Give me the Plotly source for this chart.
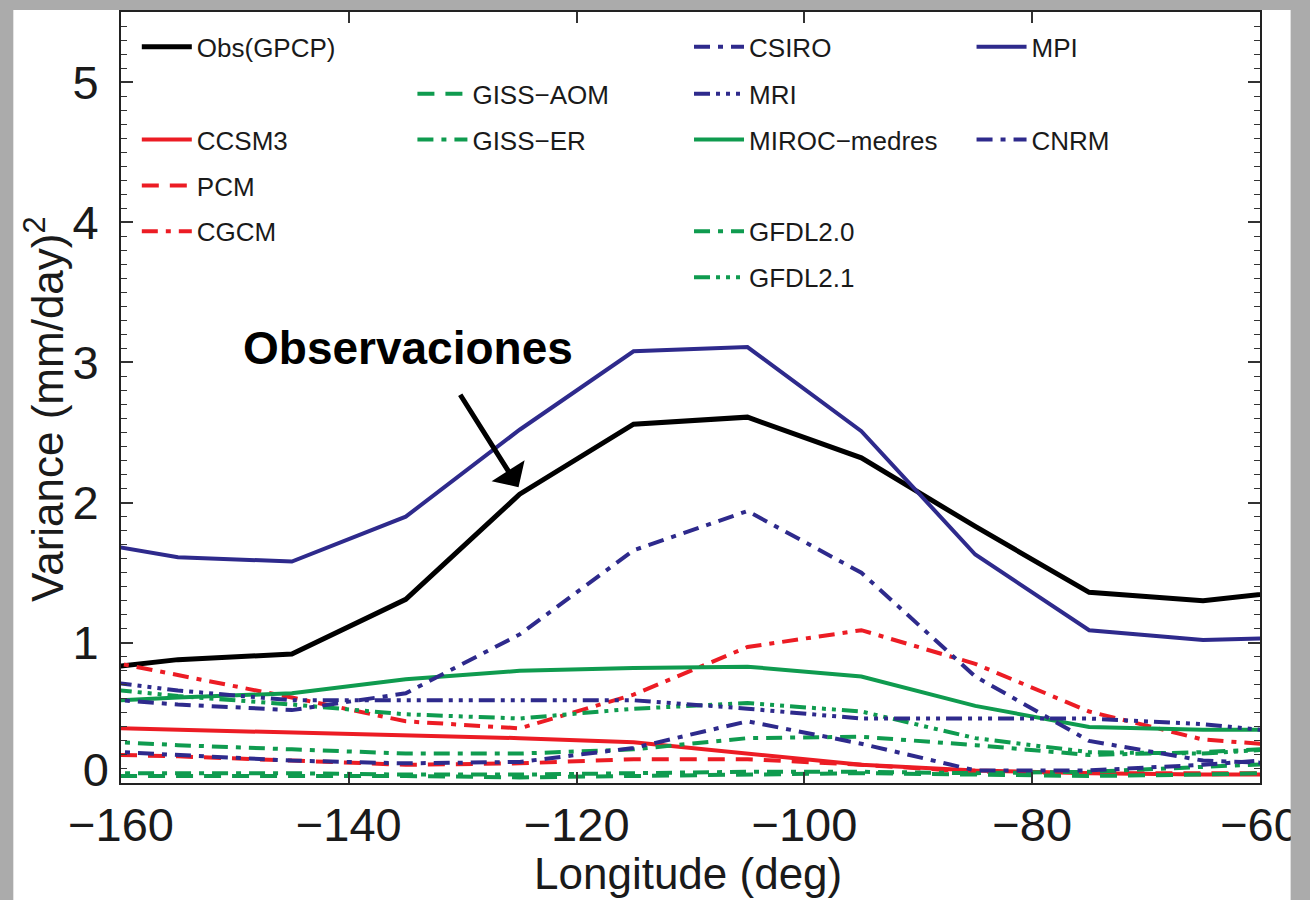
import plotly.graph_objects as go

# ---------------- data ----------------
lon = [-165, -155, -145, -135, -125, -115, -105, -95, -85, -75, -65, -55]

obs      = [0.79, 0.88, 0.92, 1.31, 2.06, 2.56, 2.61, 2.32, 1.83, 1.36, 1.30, 1.39]
ccsm3    = [0.40, 0.38, 0.36, 0.34, 0.32, 0.29, 0.21, 0.13, 0.09, 0.07, 0.06, 0.06]
pcm      = [0.21, 0.19, 0.16, 0.13, 0.14, 0.17, 0.17, 0.13, 0.08, 0.07, 0.07, 0.07]
cgcm     = [0.93, 0.77, 0.61, 0.44, 0.39, 0.63, 0.97, 1.09, 0.85, 0.51, 0.31, 0.25]
giss_aom = [0.05, 0.05, 0.05, 0.05, 0.04, 0.05, 0.06, 0.07, 0.06, 0.05, 0.06, 0.08]
giss_er  = [0.07, 0.07, 0.07, 0.06, 0.06, 0.07, 0.08, 0.08, 0.07, 0.08, 0.11, 0.15]
miroc    = [0.57, 0.61, 0.64, 0.74, 0.80, 0.82, 0.83, 0.76, 0.55, 0.40, 0.38, 0.38]
gfdl20   = [0.31, 0.27, 0.24, 0.21, 0.21, 0.24, 0.32, 0.33, 0.27, 0.20, 0.22, 0.26]
gfdl21   = [0.70, 0.62, 0.56, 0.49, 0.46, 0.53, 0.57, 0.51, 0.32, 0.22, 0.21, 0.26]
csiro    = [0.62, 0.56, 0.52, 0.64, 1.06, 1.66, 1.94, 1.50, 0.76, 0.30, 0.16, 0.13]
mri      = [0.76, 0.66, 0.59, 0.59, 0.59, 0.59, 0.53, 0.46, 0.46, 0.46, 0.42, 0.34]
mpi      = [1.75, 1.61, 1.58, 1.90, 2.52, 3.08, 3.11, 2.51, 1.63, 1.09, 1.02, 1.04]
cnrm     = [0.24, 0.20, 0.16, 0.14, 0.15, 0.25, 0.44, 0.28, 0.09, 0.09, 0.13, 0.19]

x_ticks = [-160, -140, -120, -100, -80, -60]
y_ticks = [1, 2, 3, 4, 5]
y_zero_tick = [0]

# ---------------- styles ----------------
RED = "#ec1c24"
GREEN = "#0f9b4f"
NAVY = "#2e2a8c"
BLACK = "#000000"

DASH = "17px,11px"
DASHDOT = "16px,8px,5px,8px"
DASH3DOT = "16px,6px,4px,6px,4px,6px,4px,6px"

# name, values, color, dash, width, legend line-start px, legend row py
series = [
    ("Obs(GPCP)",    obs,      BLACK, "solid",  5.0, 145, 45),
    ("CCSM3",        ccsm3,    RED,   "solid",  4.0, 145, 138),
    ("PCM",          pcm,      RED,   DASH,     4.0, 145, 184),
    ("CGCM",         cgcm,     RED,   DASHDOT,  4.0, 145, 230),
    ("GISS−AOM",     giss_aom, GREEN, DASH,     4.0, 424, 92),
    ("GISS−ER",      giss_er,  GREEN, DASHDOT,  4.0, 424, 138),
    ("MIROC−medres", miroc,    GREEN, "solid",  4.0, 704, 138),
    ("GFDL2.0",      gfdl20,   GREEN, DASHDOT,  4.0, 704, 230),
    ("GFDL2.1",      gfdl21,   GREEN, DASH3DOT, 4.0, 704, 276),
    ("CSIRO",        csiro,    NAVY,  DASHDOT,  4.0, 704, 45),
    ("MRI",          mri,      NAVY,  DASH3DOT, 4.0, 704, 92),
    ("MPI",          mpi,      NAVY,  "solid",  4.0, 990, 45),
    ("CNRM",         cnrm,     NAVY,  DASHDOT,  4.0, 990, 138),
]

# plot area geometry (px)
L, R, T, B = 121, 36, 10, 117
W, H = 1310, 900
PW = W - L - R
PH = H - T - B


def px_to_paper_x(px):
    return (px - L) / PW


def py_to_paper_y(py):
    return (H - B - py) / PH


fig = go.Figure()
layout_legends = {}
for i, (name, vals, color, dash, width, lx, ly) in enumerate(series):
    lid = "legend" if i == 0 else f"legend{i + 1}"
    fig.add_trace(go.Scatter(
        x=lon, y=vals, mode="lines", name=name,
        line=dict(color=color, dash=dash, width=width),
        legend=lid, showlegend=True,
        yaxis="y2" if name == "GISS−AOM" else "y",
    ))
    layout_legends[lid] = dict(
        x=px_to_paper_x(lx - 8), y=py_to_paper_y(ly),
        xanchor="left", yanchor="middle",
        bgcolor="rgba(0,0,0,0)", borderwidth=0,
        font=dict(family="Liberation Sans", size=26, color="#1a1a1a"),
        itemwidth=50, tracegroupgap=0,
    )

fig.update_layout(**layout_legends)

axis_font = dict(family="Liberation Sans", size=47, color="#1a1a1a")

fig.update_layout(
    width=W, height=H,
    margin=dict(l=L, r=R, t=T, b=B, pad=0),
    paper_bgcolor="white",
    plot_bgcolor="white",
    xaxis=dict(
        range=[-160, -60], tickvals=x_ticks,
        ticks="inside", ticklen=11, tickwidth=1.5, tickcolor="#333",
        showline=True, linecolor="#222", linewidth=2, mirror="ticks",
        showgrid=False, zeroline=False,
        tickfont=axis_font, ticklabelstandoff=0,
        ticklabeloverflow="allow",
    ),
    yaxis=dict(
        range=[0, 5.5], tickvals=y_ticks,
        ticks="inside", ticklen=12, tickwidth=1.5, tickcolor="#333",
        showline=True, linecolor="#222", linewidth=2, mirror="ticks",
        showgrid=False, zeroline=False,
        minor=dict(dtick=0.1, ticks="inside", ticklen=6, tickwidth=1.2, tickcolor="#333"),
        tickfont=axis_font, ticklabelstandoff=11,
        ticklabeloverflow="allow",
    ),
    # the "0" label sits a little above its tick, clear of the x labels
    yaxis2=dict(
        range=[0, 5.5], overlaying="y", side="left", anchor="x",
        tickvals=y_zero_tick, ticks="", showline=False, showgrid=False,
        zeroline=False, tickfont=axis_font, ticklabelstandoff=11,
        ticklabelshift=-13, ticklabeloverflow="allow",
    ),
    showlegend=True,
)

# axis titles
fig.add_annotation(
    text="Variance (mm/day)<sup>2</sup>", textangle=-90,
    xref="paper", yref="paper", x=px_to_paper_x(44), y=py_to_paper_y(408),
    xanchor="center", yanchor="middle", showarrow=False,
    font=dict(family="Liberation Sans", size=44, color="#1a1a1a"),
)
fig.add_annotation(
    text="Longitude (deg)",
    xref="paper", yref="paper", x=px_to_paper_x(695), y=py_to_paper_y(874),
    xanchor="center", yanchor="middle", showarrow=False,
    font=dict(family="Liberation Sans", size=44, color="#1a1a1a"),
)

# "Observaciones" label with arrow
fig.add_annotation(
    text="<b>Observaciones</b>", x=-134.8, y=3.10, xref="x", yref="y",
    showarrow=False, xanchor="center", yanchor="middle",
    font=dict(family="Liberation Sans", size=46, color="black"),
)
fig.add_annotation(
    text="", x=-125.1, y=2.11, ax=-130.3, ay=2.78,
    xref="x", yref="y", axref="x", ayref="y",
    showarrow=True, arrowhead=1, arrowsize=1.3, arrowwidth=5, arrowcolor="black",
)

# gray frame around the figure
GRAY = "#ababab"
fig.add_shape(type="rect", xref="paper", yref="paper", layer="above",
              x0=-0.3, x1=px_to_paper_x(12), y0=-0.4, y1=1.2,
              line=dict(width=0), fillcolor=GRAY)
fig.add_shape(type="rect", xref="paper", yref="paper", layer="above",
              x0=px_to_paper_x(1305), x1=1.3, y0=-0.4, y1=1.2,
              line=dict(width=0), fillcolor=GRAY)
fig.add_shape(type="rect", xref="paper", yref="paper", layer="above",
              x0=-0.3, x1=1.3, y0=py_to_paper_y(8), y1=1.2,
              line=dict(width=0), fillcolor=GRAY)

fig.write_html("out.html")
